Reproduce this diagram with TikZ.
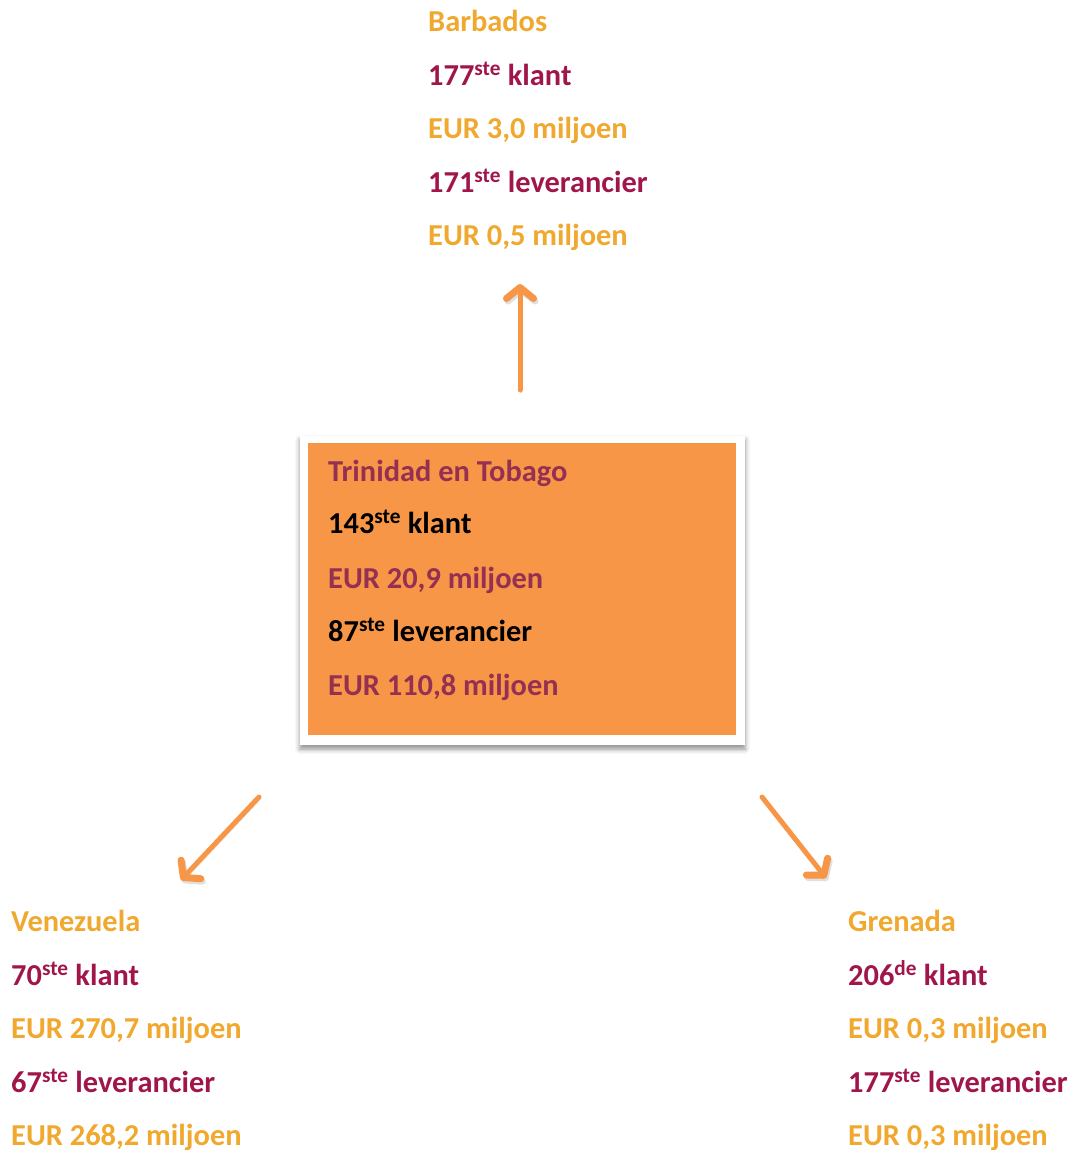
\documentclass[tikz,border=0pt]{standalone}
\usepackage{fontspec}
\setmainfont{Carlito}
\usetikzlibrary{arrows.meta,shadows.blur}
\definecolor{gold}{HTML}{F0A82E}
\definecolor{wine}{HTML}{A0154A}
\definecolor{boxwine}{HTML}{953053}
\definecolor{boxorange}{HTML}{F79646}
\tikzset{
  line/.style={anchor=base west,inner sep=0pt,font=\fontsize{30.4}{36}\selectfont\bfseries},
  goldline/.style={line,text=gold},
  wineline/.style={line,text=wine},
  flow/.style={boxorange,line width=5pt,line cap=round,
    -{Straight Barb[length=11pt,width=27pt,line width=7pt,round]},
    preaction={draw=black,opacity=.12,transform canvas={shift={(1.5pt,-2.5pt)}}}}
}
\begin{document}
\begin{tikzpicture}[x=1pt,y=-1pt]
        \useasboundingbox (0,0) rectangle (1073,1151);

        % centre box
        \fill[white,blur shadow={shadow xshift=0pt,shadow yshift=-4pt,shadow blur radius=5pt,shadow opacity=45}] (300,436) rectangle (745,745);
        \fill[boxorange] (308,443) rectangle (736,735);
        \node[line,text=boxwine] (tt) at (328,481) {Trinidad en Tobago};
        \node[line,text=black] (ttk) at (328,533) {143\textsuperscript{ste} klant};
        \node[line,text=boxwine] (ttke) at (328,588) {EUR 20,9 miljoen};
        \node[line,text=black] (ttl) at (328,641) {87\textsuperscript{ste} leverancier};
        \node[line,text=boxwine] (ttle) at (328,695) {EUR 110,8 miljoen};

        % Barbados
        \node[goldline] (bb) at (428,31) {Barbados};
        \node[wineline] (bbk) at (428,85) {177\textsuperscript{ste} klant};
        \node[goldline] (bbke) at (428,138) {EUR 3,0 miljoen};
        \node[wineline] (bbl) at (428,192) {171\textsuperscript{ste} leverancier};
        \node[goldline] (bble) at (428,245) {EUR 0,5 miljoen};

        % Venezuela
        \node[goldline] (ve) at (11,931) {Venezuela};
        \node[wineline] (vek) at (11,985) {70\textsuperscript{ste} klant};
        \node[goldline] (veke) at (11,1038) {EUR 270,7 miljoen};
        \node[wineline] (vel) at (11,1092) {67\textsuperscript{ste} leverancier};
        \node[goldline] (vele) at (11,1145) {EUR 268,2 miljoen};

        % Grenada
        \node[goldline] (gr) at (848,931) {Grenada};
        \node[wineline] (grk) at (848,985) {206\textsuperscript{de} klant};
        \node[goldline] (grke) at (848,1038) {EUR 0,3 miljoen};
        \node[wineline] (grl) at (848,1092) {177\textsuperscript{ste} leverancier};
        \node[goldline] (grle) at (848,1145) {EUR 0,3 miljoen};

        \coordinate (upfrom) at (520,390);
        \coordinate (upto) at (520,284);
        \coordinate (leftfrom) at (259,797);
        \coordinate (leftto) at (181,880);
        \coordinate (rightfrom) at (762,797);
        \coordinate (rightto) at (826,878);

        \draw[flow] (upfrom) -- (upto);
        \draw[flow] (leftfrom) -- (leftto);
        \draw[flow] (rightfrom) -- (rightto);
    \end{tikzpicture}
\end{document}
